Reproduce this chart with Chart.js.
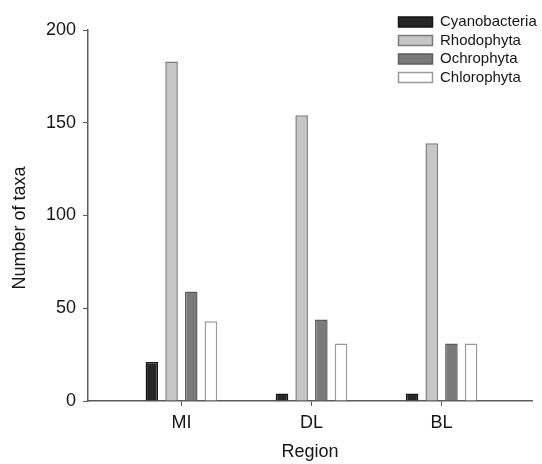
<!DOCTYPE html>
<html>
<head>
<meta charset="utf-8">
<script src="https://cdn.jsdelivr.net/npm/chart.js@4.4.1/dist/chart.umd.min.js"></script>
<style>
  body{margin:0;background:#fff;}
  #wrap{width:542px;height:464px;}
</style>
</head>
<body>
<div id="wrap"><canvas id="myChart" width="542" height="464"></canvas></div>
<script>
// data
const regions = ['MI', 'DL', 'BL'];
const cyanobacteria = [21, 4, 4];
const rhodophyta = [183, 154, 139];
const ochrophyta = [59, 44, 31];
const chlorophyta = [43, 31, 31];
const yTicks = [0, 50, 100, 150, 200];

let toPoints = (vals) => vals.map((v, i) => ({x: i, y: v}));

let axisColor = '#5a5a5a';
let textColor = '#161616';

// move the legend to the upper right corner inside the plot
let legendPlace = {
    id: 'legendPlace',
    afterLayout(chart) {
        let lg = chart.legend;
        if (!lg) return;
        let w = lg.width, h = lg.height;
        lg.left = 395;
        lg.right = lg.left + w;
        lg.top = 11;
        lg.bottom = lg.top + h;
    }
};

Chart.defaults.font.family = "'Liberation Sans', Arial, sans-serif";
Chart.defaults.color = textColor;

let ctx = document.getElementById('myChart').getContext('2d');
let chart = new Chart(ctx, {
    type: 'bar',
    data: {
        datasets: [
            {label: 'Cyanobacteria', data: toPoints(cyanobacteria), backgroundColor: '#262626', borderColor: '#151515', borderWidth: 1.5},
            {label: 'Rhodophyta', data: toPoints(rhodophyta), backgroundColor: '#c6c6c6', borderColor: '#7c7c7c', borderWidth: 1.5},
            {label: 'Ochrophyta', data: toPoints(ochrophyta), backgroundColor: '#7a7a7a', borderColor: '#5c5c5c', borderWidth: 1.5},
            {label: 'Chlorophyta', data: toPoints(chlorophyta), backgroundColor: '#ffffff', borderColor: '#9a9a9a', borderWidth: 1.5}
        ]
    },
    options: {
        responsive: false,
        animation: false,
        devicePixelRatio: 1,
        layout: {padding: {top: 30, right: 10, bottom: 0, left: 0}},
        datasets: {bar: {categoryPercentage: 0.605, barPercentage: 0.64}},
        plugins: {
            tooltip: {enabled: false},
            legend: {
                position: 'chartArea',
                align: 'start',
                labels: {
                    boxWidth: 34,
                    boxHeight: 10,
                    padding: 3.5,
                    color: textColor,
                    font: {size: 15}
                }
            }
        },
        scales: {
            x: {
                type: 'linear',
                offset: false,
                min: -0.718,
                max: 2.695,
                afterBuildTicks: (s) => { s.ticks = regions.map((r, i) => ({value: i})); },
                afterFit: (s) => { s.height = 63; },
                ticks: {
                    callback: (v) => regions[v],
                    padding: 6,
                    font: {size: 18},
                    color: textColor,
                    maxRotation: 0
                },
                grid: {offset: false, drawOnChartArea: false, drawTicks: true, tickLength: 5, color: axisColor},
                border: {display: true, color: axisColor, width: 1.5},
                title: {display: true, text: 'Region', font: {size: 18}, color: textColor, padding: {top: 0, bottom: 1}}
            },
            y: {
                min: 0,
                max: 200,
                afterBuildTicks: (s) => { s.ticks = yTicks.map(v => ({value: v})); },
                afterFit: (s) => { s.width = 88; },
                ticks: {padding: 7, font: {size: 18}, color: textColor},
                grid: {drawOnChartArea: false, drawTicks: true, tickLength: 5, color: axisColor},
                border: {display: true, color: axisColor, width: 1.5},
                // trailing no-break spaces push the title a little down, as in the figure
                title: {display: true, text: 'Number of taxa\u00a0\u00a0\u00a0\u00a0\u00a0', font: {size: 18}, color: textColor, padding: {top: 9.5, bottom: 0}}
            }
        }
    },
    plugins: [legendPlace]
});
</script>
</body>
</html>
